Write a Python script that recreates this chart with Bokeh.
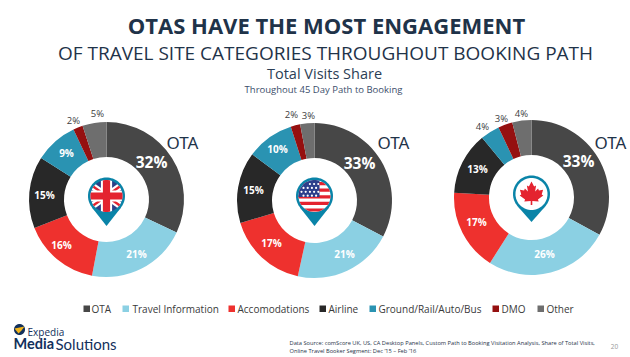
import math
from bokeh.plotting import figure
from bokeh.embed import file_html
from bokeh.resources import INLINE
from bokeh.core.properties import value

categories = ["OTA", "Travel Information", "Accomodations", "Airline", "Ground/Rail/Auto/Bus", "DMO", "Other"]
uk_values = [32, 21, 16, 15, 9, 2, 5]
us_values = [33, 21, 17, 15, 10, 2, 3]
ca_values = [33, 26, 17, 13, 4, 3, 4]
colors = ["#474747", "#8BD0E3", "#EE312E", "#282828", "#2A93B2", "#951010", "#6E6E6E"]

FONT = "Open Sans"
W, H = 630, 357
p = figure(width=W, height=H, x_range=(0, W), y_range=(0, H),
           output_backend="svg", toolbar_location=None, min_border=0,
           outline_line_color=None, background_fill_color="white", border_fill_color="white")
p.xaxis.visible = False
p.yaxis.visible = False
p.grid.visible = False


def Y(y):
    return H - y


def txt(x, y, s, size, color, bold=False, align="center", font=FONT):
    p.text([x], [Y(y)], text=[s], text_font=value(font), text_font_size=f"{size}px",
           text_color=color, text_align=align, text_baseline="middle",
           text_font_style="bold" if bold else "normal")


def donut(cx, cy, vals):
    total = sum(vals)
    a = math.pi / 2
    for v, c in zip(vals, colors):
        b = a - v / total * 2 * math.pi
        p.annular_wedge([cx], [Y(cy)], inner_radius=42.5, outer_radius=77.5, start_angle=a, end_angle=b,
                        direction="clock", fill_color=c, line_color=None)
        a = b


def circle_poly(cx, cy, r, n=72):
    return [(cx + r * math.cos(2 * math.pi * i / n), cy + r * math.sin(2 * math.pi * i / n)) for i in range(n)]


def clip(poly, cx, cy, r):
    """Clip a polygon to a disc (approximated by a convex polygon)."""
    out = poly
    c = circle_poly(cx, cy, r)
    for i in range(len(c)):
        ax, ay = c[i]
        bx, by = c[(i + 1) % len(c)]
        side = lambda q: (bx - ax) * (q[1] - ay) - (by - ay) * (q[0] - ax)
        res = []
        for j in range(len(out)):
            s, e = out[j], out[(j + 1) % len(out)]
            ss, se = side(s), side(e)
            if ss >= 0:
                res.append(s)
            if ss * se < 0:
                t = ss / (ss - se)
                res.append((s[0] + t * (e[0] - s[0]), s[1] + t * (e[1] - s[1])))
        out = res
        if not out:
            break
    return out


def poly(pts, color):
    if pts:
        p.patch([q[0] for q in pts], [Y(q[1]) for q in pts], fill_color=color, line_color=None)


def pin(cx, cy, tip, r=18.5):
    d = tip - cy
    ang = math.asin(r / d)
    tx = r * math.cos(ang)
    ty = r * math.sin(ang)
    poly([(cx - tx, cy + ty), (cx + tx, cy + ty), (cx, tip)], "#0A84A8")
    poly(circle_poly(cx, cy, r), "#0A84A8")


def band(cx, cy, ang, half, L=30):
    c, s = math.cos(ang), math.sin(ang)
    return [(cx - L * c - half * s, cy - L * s + half * c), (cx + L * c - half * s, cy + L * s + half * c),
            (cx + L * c + half * s, cy + L * s - half * c), (cx - L * c + half * s, cy - L * s - half * c)]


def flag_uk(cx, cy, r=16):
    poly(circle_poly(cx, cy, r), "#2E3F86")
    for ang in (0.62, -0.62):
        poly(clip(band(cx, cy, ang, 3.4), cx, cy, r), "#FFFFFF")
    for ang in (0.62, -0.62):
        poly(clip(band(cx, cy, ang, 1.2), cx, cy, r), "#E4232F")
    poly(clip(band(cx, cy, 0, 5.6), cx, cy, r), "#FFFFFF")
    poly(clip(band(cx, cy, math.pi / 2, 5.6), cx, cy, r), "#FFFFFF")
    poly(clip(band(cx, cy, 0, 3.6), cx, cy, r), "#E4232F")
    poly(clip(band(cx, cy, math.pi / 2, 3.6), cx, cy, r), "#E4232F")


def flag_us(cx, cy, r=16):
    poly(circle_poly(cx, cy, r), "#FFFFFF")
    for k in range(5):
        y0 = cy - 14 + k * 6.6
        poly(clip([(cx - r, y0), (cx + r, y0), (cx + r, y0 + 3.2), (cx - r, y0 + 3.2)], cx, cy, r), "#E4232F")
    poly(clip([(cx - r, cy - r), (cx + 5, cy - r), (cx + 5, cy + 1), (cx - r, cy + 1)], cx, cy, r), "#2C3F8C")
    sx, sy = [], []
    for row in range(4):
        for col in range(5):
            x = cx - 13 + col * 4.2 + (row % 2) * 2.0
            y = cy - 12 + row * 3.9
            if (x - cx) ** 2 + (y - cy) ** 2 < 14.5 ** 2 and x < cx + 4.5:
                sx.append(x)
                sy.append(Y(y))
    p.scatter(sx, sy, size=2.2, marker="circle", fill_color="white", line_color=None)


LEAF = [(0, -12.5), (2.6, -7.5), (4.6, -8.6), (3.6, -2.6), (6.6, -5.4), (7.4, -3.6), (11.6, -4.2), (10.2, 0.4),
        (11.8, 1.4), (6.4, 5.6), (7.2, 7.6), (0.8, 6.9), (0.8, 11), (-0.8, 11), (-0.8, 6.9), (-7.2, 7.6),
        (-6.4, 5.6), (-11.8, 1.4), (-10.2, 0.4), (-11.6, -4.2), (-7.4, -3.6), (-6.6, -5.4), (-3.6, -2.6),
        (-4.6, -8.6), (-2.6, -7.5)]


def flag_ca(cx, cy, r=16):
    poly(circle_poly(cx, cy, r), "#FFFFFF")
    poly([(cx + a, cy + b) for a, b in LEAF], "#E4232F")


# Titles
txt(326, 24, "OTAS HAVE THE MOST ENGAGEMENT", 22, "#1F3349", bold=True)
txt(325, 52, "OF TRAVEL SITE CATEGORIES THROUGHOUT BOOKING PATH", 19, "#1F3349")
txt(324, 73, "Total Visits Share", 14.5, "#2B3E55")
txt(323, 89, "Throughout 45 Day Path to Booking", 9.5, "#3B4E6B")

# Donuts
centers = [(106, 199), (314, 200), (531, 197)]
for (cx, cy), vals in zip(centers, [uk_values, us_values, ca_values]):
    donut(cx, cy, vals)

# Value labels
WHITE, GREY = "#FFFFFF", "#404040"
uk_pos = [(151, 161), (136, 253), (61, 244), (44, 194), (66, 152), (73, 120), (97, 113)]
us_pos = [(359, 162), (344, 253), (271, 242), (253, 189), (277, 148), (291, 114), (308, 115)]
ca_pos = [(578, 160), (544, 253), (476, 221), (477, 168), (482, 126), (501, 118), (521, 113)]
outside = [{5, 6}, {5, 6}, {4, 5, 6}]
for vals, pos, out in zip([uk_values, us_values, ca_values], [uk_pos, us_pos, ca_pos], outside):
    for i, (v, (x, y)) in enumerate(zip(vals, pos)):
        if i == 0:
            txt(x, y, f"{v}%", 15.5, WHITE, bold=True)
        elif i in out:
            txt(x, y, f"{v}%", 9.5, GREY)
        else:
            txt(x, y, f"{v}%", 10, WHITE, bold=True)

for x in (182, 393, 610):
    txt(x, 142, "OTA", 17, "#1F3349", font="Noto Sans")

# Pins
pin(106, 195.5, 225.5)
flag_uk(106, 195.5)
pin(314, 195.5, 225.5)
flag_us(314, 195.5)
pin(531, 193.5, 221.5)
flag_ca(531, 193.5)

# Legend
sq_x = [83, 122, 228, 319, 369, 492, 537]
tx_x = [91, 132, 237, 328, 378, 501, 546]
for sx, tx, name, c in zip(sq_x, tx_x, categories, colors):
    poly([(sx, 305), (sx + 6.5, 305), (sx + 6.5, 311.5), (sx, 311.5)], c)
    txt(tx, 308.5, name, 10, "#3A3A3A", align="left")

# Logo
poly(circle_poly(19, 329, 5.5), "#12305C")
poly([(14, 328), (24, 326), (21, 330), (18, 333)], "#F2B51C")
txt(27, 331, "Expedia", 10, "#12305C", align="left")
txt(13, 343, "Media", 14.5, "#12305C", bold=True, align="left", font="Lato")
txt(55, 343, "Solutions", 15, "#12305C", align="left", font="Lato")

# Footer
txt(289, 342, "Data Source: comScore UK, US, CA Desktop Panels, Custom Path to Booking Visitation Analysis, Share of Total Visits,", 5.7, "#1F3349", align="left")
txt(289, 350, "Online Travel Booker Segment: Dec \u201915 \u2013 Feb \u201916", 5.7, "#1F3349", align="left")
txt(614, 346, "20", 6.5, "#999999")

open("out.html", "w").write(file_html(p, INLINE))
